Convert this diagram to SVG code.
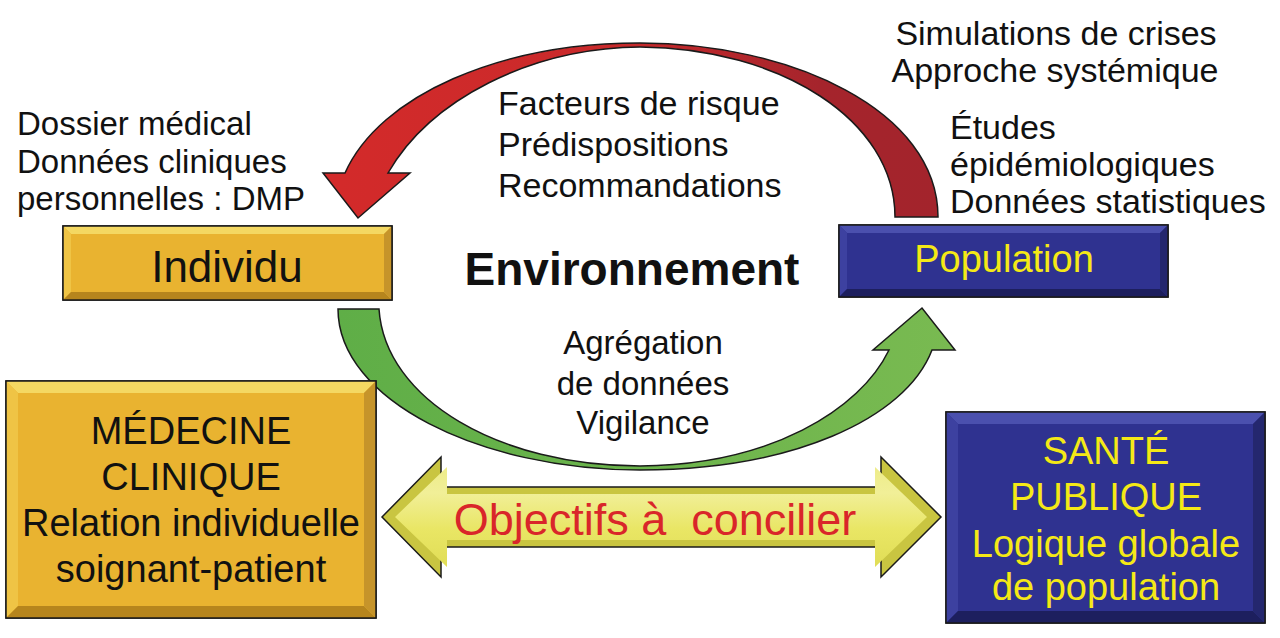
<svg xmlns="http://www.w3.org/2000/svg" width="1280" height="638" viewBox="0 0 1280 638">
<defs>
<linearGradient id="redG" x1="340" y1="0" x2="940" y2="0" gradientUnits="userSpaceOnUse">
<stop offset="0" stop-color="#d32a2a"/><stop offset="0.45" stop-color="#c92a2b"/><stop offset="0.8" stop-color="#a5242c"/><stop offset="1" stop-color="#a3242c"/>
</linearGradient>
<linearGradient id="greenG" x1="338" y1="0" x2="955" y2="0" gradientUnits="userSpaceOnUse">
<stop offset="0" stop-color="#5fae47"/><stop offset="1" stop-color="#79ba51"/>
</linearGradient>
<linearGradient id="yelG" x1="0" y1="457" x2="0" y2="577" gradientUnits="userSpaceOnUse">
<stop offset="0" stop-color="#eceb84"/><stop offset="0.3" stop-color="#f1ef98"/><stop offset="0.6" stop-color="#e9e665"/><stop offset="1" stop-color="#dedb52"/>
</linearGradient>
<style>
.ol{stroke:#1a1a1a;stroke-width:1.5;stroke-linejoin:miter}
.t{font-family:"Liberation Sans",Arial,sans-serif;fill:#111}
.g-face{fill:#e9b330}.g-top{fill:#f4d862}.g-left{fill:#efc445}.g-bot{fill:#b6851d}.g-right{fill:#c6942a}
.b-face{fill:#2f3290}.b-top{fill:#4b50ae}.b-left{fill:#3d41a0}.b-bot{fill:#1d1f5e}.b-right{fill:#24276e}
.yel{fill:#f5e916}
</style>
</defs>
<rect width="1280" height="638" fill="#ffffff"/>

<g id="connectors">
<path id="red-arrow" class="ol" fill="url(#redG)" d="M938,217 C938,110 790,43 640,43 C500,43 380,95 345,173 L323,173 L358,218 L410,173 L388,173 C430,100 530,48 640,47 C780,48 895,120 895,217 Z"/>
<path id="green-arrow" class="ol" fill="url(#greenG)" d="M338,309 C338,400 480,470 640,470 C790,470 905,420 932,350 L955,350 L922,308 L873,350 L889,350 C860,410 770,465 640,466 C500,466 385,400 379,309 Z"/>
<g id="double-arrow">
<polygon class="ol" fill="#c9c541" points="382,517 441,457 441,487 881,487 881,457 941,517 881,577 881,547 441,547 441,577"/>
<polygon fill="url(#yelG)" points="395,517 447,467 447,494 875,494 875,467 927,517 875,567 875,540 447,540 447,567"/>
<text class="t" x="655" y="535" font-size="45" text-anchor="middle" style="fill:#d9262a;white-space:pre">Objectifs à  concilier</text>
</g>
</g>

<g id="label-top" class="t" font-size="34">
<text x="498" y="115">Facteurs de risque</text>
<text x="498" y="156">Prédispositions</text>
<text x="498" y="197">Recommandations</text>
</g>
<g id="label-bottom" class="t" font-size="33" text-anchor="middle">
<text x="643" y="354">Agrégation</text>
<text x="643" y="395">de données</text>
<text x="643" y="434">Vigilance</text>
</g>
<g id="label-left" class="t" font-size="33">
<text x="17" y="135">Dossier médical</text>
<text x="17" y="173">Données cliniques</text>
<text x="17" y="210">personnelles : DMP</text>
</g>
<g id="label-right" class="t" font-size="34">
<text x="1056" y="45" text-anchor="middle">Simulations de crises</text>
<text x="1055" y="82" text-anchor="middle">Approche systémique</text>
<text x="950" y="139">Études</text>
<text x="950" y="176">épidémiologiques</text>
<text x="950" y="213">Données statistiques</text>
</g>
<g id="environnement">
<text class="t" x="632" y="285" font-size="46" font-weight="bold" text-anchor="middle">Environnement</text>
</g>

<g id="individu">
<rect class="ol g-face" x="63" y="226" width="329" height="74"/>
<polygon class="g-top" points="63,226 392,226 384,234 71,234"/>
<polygon class="g-left" points="63,226 71,234 71,292 63,300"/>
<polygon class="g-bot" points="63,300 71,292 384,292 392,300"/>
<polygon class="g-right" points="392,226 392,300 384,292 384,234"/>
<rect x="63" y="226" width="329" height="74" fill="none" class="ol"/>
<text class="t" x="227" y="282" font-size="44" text-anchor="middle">Individu</text>
</g>

<g id="population">
<rect class="ol b-face" x="839" y="225" width="329" height="72"/>
<polygon class="b-top" points="839,225 1168,225 1160,233 847,233"/>
<polygon class="b-left" points="839,225 847,233 847,289 839,297"/>
<polygon class="b-bot" points="839,297 847,289 1160,289 1168,297"/>
<polygon class="b-right" points="1168,225 1168,297 1160,289 1160,233"/>
<rect x="839" y="225" width="329" height="72" fill="none" class="ol"/>
<text class="t yel" x="1004" y="272" font-size="38" text-anchor="middle" style="fill:#f5e916">Population</text>
</g>

<g id="medecine-clinique">
<rect class="ol g-face" x="6" y="381" width="370" height="237"/>
<polygon class="g-top" points="6,381 376,381 364,393 18,393"/>
<polygon class="g-left" points="6,381 18,393 18,606 6,618"/>
<polygon class="g-bot" points="6,618 18,606 364,606 376,618"/>
<polygon class="g-right" points="376,381 376,618 364,606 364,393"/>
<rect x="6" y="381" width="370" height="237" fill="none" class="ol"/>
<g class="t" font-size="38" text-anchor="middle">
<text x="191" y="444">MÉDECINE</text>
<text x="191" y="490">CLINIQUE</text>
<text x="191" y="536">Relation individuelle</text>
<text x="191" y="582">soignant-patient</text>
</g>
</g>

<g id="sante-publique">
<rect class="ol b-face" x="946" y="412" width="319" height="211"/>
<polygon class="b-top" points="946,412 1265,412 1253,424 958,424"/>
<polygon class="b-left" points="946,412 958,424 958,611 946,623"/>
<polygon class="b-bot" points="946,623 958,611 1253,611 1265,623"/>
<polygon class="b-right" points="1265,412 1265,623 1253,611 1253,424"/>
<rect x="946" y="412" width="319" height="211" fill="none" class="ol"/>
<g class="t" font-size="38" text-anchor="middle" style="fill:#f5e916">
<text x="1106" y="464" style="fill:#f5e916">SANTÉ</text>
<text x="1106" y="510" style="fill:#f5e916">PUBLIQUE</text>
<text x="1106" y="557" style="fill:#f5e916">Logique globale</text>
<text x="1106" y="600" style="fill:#f5e916">de population</text>
</g>
</g>
</svg>
